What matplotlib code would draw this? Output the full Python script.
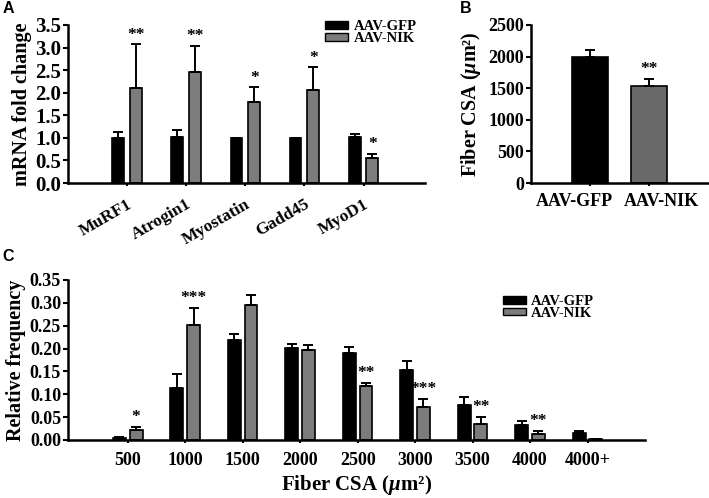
import numpy as np
from matplotlib import pyplot as plt
from matplotlib.patches import Patch
from matplotlib.transforms import ScaledTranslation

plt.rcParams['font.family'] = ['Liberation Serif', 'DejaVu Serif']
plt.rcParams['font.weight'] = 'bold'
plt.rcParams['mathtext.fontset'] = 'custom'
plt.rcParams['mathtext.rm'] = 'Liberation Serif:bold'
plt.rcParams['mathtext.it'] = 'Liberation Serif:italic:bold'
plt.rcParams['mathtext.bf'] = 'Liberation Serif:bold'

# panel A: mRNA fold change
genes = ['MuRF1', 'Atrogin1', 'Myostatin', 'Gadd45', 'MyoD1']
gfp_mrna = [1.00, 1.02, 1.00, 1.00, 1.03]
gfp_mrna_err = [0.13, 0.16, 0.0, 0.0, 0.05]
nik_mrna = [2.10, 2.47, 1.80, 2.07, 0.55]
nik_mrna_err = [0.97, 0.57, 0.32, 0.50, 0.10]
mrna_stars = ['**', '**', '*', '*', '*']

# panel B: mean fiber CSA
groups = ['AAV-GFP', 'AAV-NIK']
csa_mean = [2000, 1540]
csa_err = [100, 110]
csa_stars = ['', '**']

# panel C: fiber size distribution
bins = ['500', '1000', '1500', '2000', '2500', '3000', '3500', '4000', '4000+']
gfp_freq = [0.005, 0.113, 0.218, 0.202, 0.191, 0.154, 0.076, 0.033, 0.015]
gfp_freq_err = [0.001, 0.031, 0.013, 0.008, 0.012, 0.018, 0.017, 0.009, 0.004]
nik_freq = [0.021, 0.252, 0.296, 0.196, 0.118, 0.072, 0.036, 0.013, 0.002]
nik_freq_err = [0.007, 0.036, 0.022, 0.011, 0.007, 0.017, 0.014, 0.007, 0.0]
freq_stars = ['*', '***', '', '', '**', '***', '**', '**', '']

BLACK = '#000000'
GRAY = '#7c7c7c'
CSA_LABEL = r'Fiber CSA ($\mu$m²)'


def style_axes(ax, ysize, xsize):
    for side in ['top', 'right']:
        ax.spines[side].set_visible(False)
    for side in ['left', 'bottom']:
        ax.spines[side].set_linewidth(1.8)
    ax.tick_params(axis='y', length=3.5, width=1.5, labelsize=ysize, pad=1.5)
    ax.tick_params(axis='x', length=2.5, width=1.5, labelsize=xsize)
    for lbl in ax.get_yticklabels():
        lbl.set_fontweight('bold')


def draw_pair(ax, x, a, a_err, b, b_err, off, width):
    kw = dict(edgecolor='black', linewidth=1.2, capsize=3.5,
              error_kw=dict(elinewidth=1.4, capthick=1.4, ecolor='black'))
    ax.bar(x - off, a, width, color=BLACK,
           yerr=[np.zeros(len(a)), a_err], **kw)
    ax.bar(x + off, b, width, color=GRAY,
           yerr=[np.zeros(len(b)), b_err], **kw)


def add_legend(ax, anchor):
    ax.legend(handles=[Patch(facecolor=BLACK, edgecolor='black'),
                       Patch(facecolor=GRAY, edgecolor='black')],
              labels=groups, loc='upper left', bbox_to_anchor=anchor,
              bbox_transform=fig.transFigure, frameon=False, fontsize=10.5,
              handlelength=1.6, handleheight=0.45, labelspacing=-0.1,
              handletextpad=0.35, borderpad=0)


fig = plt.figure(figsize=(7.09, 4.98), dpi=100)

# ---- A
ax_a = fig.add_axes([0.0959, 0.6325, 0.5035, 0.3173])
xa = np.arange(len(genes))
draw_pair(ax_a, xa, gfp_mrna, gfp_mrna_err, nik_mrna, nik_mrna_err, 0.15, 0.2)
for i, s in enumerate(mrna_stars):
    ax_a.text(xa[i] + 0.15, nik_mrna[i] + nik_mrna_err[i] + 0.03, s,
              ha='center', va='bottom', fontsize=12.5, fontweight='bold')
ax_a.set_xlim(-1.0, 5.04)
ax_a.set_ylim(0, 3.5)
ax_a.set_yticks(np.arange(0, 3.51, 0.5))
ax_a.set_yticklabels(['%.1f' % v for v in np.arange(0, 3.51, 0.5)])
ax_a.set_xticks(xa)
ax_a.set_xticklabels(genes, rotation=30, ha='right', rotation_mode='anchor',
                     fontsize=12.5, fontweight='bold')
style_axes(ax_a, 15, 12.5)
ax_a.tick_params(axis='x', pad=7)
ax_a.set_ylabel('mRNA fold change', fontsize=14.5, fontweight='bold', labelpad=2)
add_legend(ax_a, (0.448, 0.974))

# ---- B
ax_b = fig.add_axes([0.749, 0.6325, 0.2496, 0.3173])
xb = np.arange(len(groups))
ax_b.bar(xb, csa_mean, 0.61, color=[BLACK, '#6a6a6a'], edgecolor='black',
         linewidth=1.2, yerr=[np.zeros(len(csa_err)), csa_err], capsize=3.5,
         error_kw=dict(elinewidth=1.4, capthick=1.4, ecolor='black'))
for i, s in enumerate(csa_stars):
    if s:
        ax_b.text(xb[i], csa_mean[i] + csa_err[i] + 30, s, ha='center',
                  va='bottom', fontsize=12.5, fontweight='bold')
ax_b.set_xlim(-1.0, 2.0)
ax_b.set_ylim(0, 2500)
ax_b.set_yticks(np.arange(0, 2501, 500))
ax_b.set_xticks(xb)
ax_b.set_xticklabels(groups, fontsize=13, fontweight='bold')
style_axes(ax_b, 13, 13)
ax_b.tick_params(axis='x', pad=5)
# the group names sit a little outward of the bar centres
for lbl, dx in zip(ax_b.get_xticklabels(), [-0.16, 0.12]):
    lbl.set_transform(lbl.get_transform() + ScaledTranslation(dx, 0, fig.dpi_scale_trans))
ax_b.set_ylabel(CSA_LABEL, fontsize=14.5, fontweight='bold', labelpad=4)

# ---- C
ax_c = fig.add_axes([0.0959, 0.1165, 0.8138, 0.3213])
xc = np.arange(len(bins))
draw_pair(ax_c, xc, gfp_freq, gfp_freq_err, nik_freq, nik_freq_err, 0.145, 0.225)
for i, s in enumerate(freq_stars):
    if s:
        ax_c.text(xc[i] + 0.145, nik_freq[i] + nik_freq_err[i] + 0.004, s,
                  ha='center', va='bottom', fontsize=12.5, fontweight='bold')
ax_c.set_xlim(-1.04, 9.0)
ax_c.set_ylim(0, 0.35)
ax_c.set_yticks(np.arange(0, 0.351, 0.05))
ax_c.set_yticklabels(['%.2f' % v for v in np.arange(0, 0.351, 0.05)])
ax_c.set_xticks(xc)
ax_c.set_xticklabels(bins, fontsize=13, fontweight='bold')
style_axes(ax_c, 13, 13)
ax_c.tick_params(axis='x', pad=6)
ax_c.set_xlabel(CSA_LABEL, fontsize=15, fontweight='bold', labelpad=3)
ax_c.set_ylabel('Relative frequency', fontsize=14.5, fontweight='bold', labelpad=3)
add_legend(ax_c, (0.699, 0.422))

for letter, x, y in [('A', 0.004, 0.998), ('B', 0.648, 0.998), ('C', 0.004, 0.5)]:
    fig.text(x, y, letter, fontsize=11.5, fontweight='bold', family='Liberation Sans',
             ha='left', va='top')

fig.savefig('out.png', dpi=100)
